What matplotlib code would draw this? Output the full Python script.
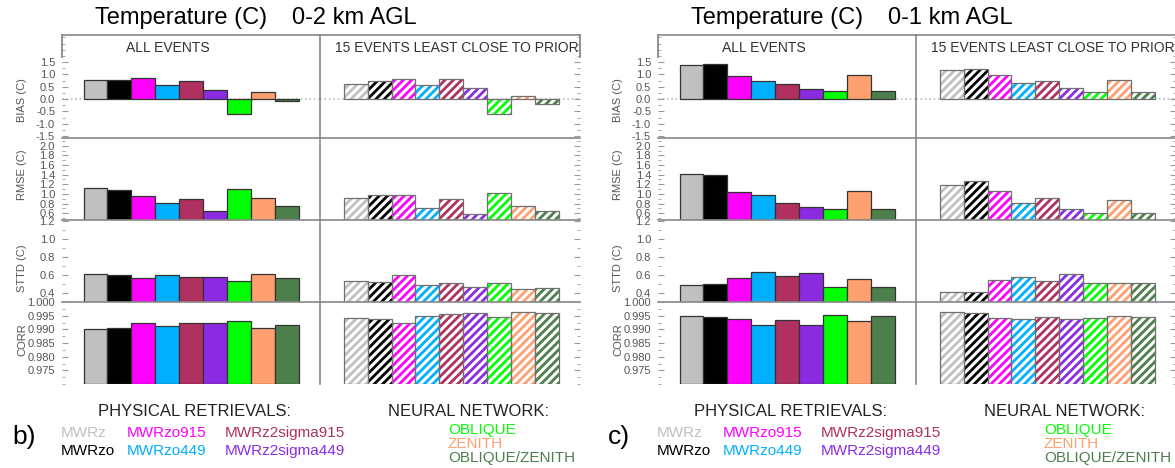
import numpy as np
import matplotlib
matplotlib.use('Agg')
import matplotlib.pyplot as plt
from matplotlib.lines import Line2D
from matplotlib.ticker import FixedLocator, MultipleLocator

plt.rcParams['font.family'] = ['Liberation Sans', 'DejaVu Sans']
plt.rcParams['hatch.linewidth'] = 2.0
plt.rcParams['axes.unicode_minus'] = False

W, H = 1175, 468

names = ['MWRz', 'MWRzo', 'MWRzo915', 'MWRzo449', 'MWRz2sigma915',
         'MWRz2sigma449', 'OBLIQUE', 'ZENITH', 'OBLIQUE/ZENITH']
colors = ['#c0c0c0', '#000000', '#ff00ff', '#00b0ff', '#b03060',
          '#8a2be2', '#00ff00', '#ffa070', '#4d7f4d']

# 0-2 km AGL
bias_02_all = [0.79, 0.76, 0.86, 0.59, 0.74, 0.36, -0.60, 0.30, -0.07]
bias_02_15 = [0.63, 0.72, 0.80, 0.59, 0.80, 0.45, -0.60, 0.12, -0.20]
rmse_02_all = [1.12, 1.08, 0.96, 0.82, 0.90, 0.64, 1.10, 0.92, 0.76]
rmse_02_15 = [0.92, 0.98, 0.98, 0.70, 0.90, 0.58, 1.02, 0.74, 0.64]
sttd_02_all = [0.61, 0.60, 0.57, 0.60, 0.58, 0.58, 0.53, 0.61, 0.57]
sttd_02_15 = [0.53, 0.52, 0.60, 0.49, 0.51, 0.47, 0.51, 0.44, 0.46]
corr_02_all = [0.9900, 0.9904, 0.9924, 0.9912, 0.9922, 0.9922, 0.9930, 0.9906, 0.9916]
corr_02_15 = [0.9940, 0.9937, 0.9922, 0.9950, 0.9956, 0.9958, 0.9944, 0.9962, 0.9958]

# 0-1 km AGL
bias_01_all = [1.39, 1.41, 0.94, 0.74, 0.60, 0.40, 0.33, 0.96, 0.33]
bias_01_15 = [1.19, 1.23, 0.99, 0.66, 0.72, 0.43, 0.27, 0.79, 0.27]
rmse_01_all = [1.41, 1.40, 1.04, 0.97, 0.81, 0.73, 0.69, 1.07, 0.69]
rmse_01_15 = [1.19, 1.26, 1.07, 0.81, 0.91, 0.68, 0.61, 0.88, 0.61]
sttd_01_all = [0.49, 0.50, 0.57, 0.63, 0.59, 0.62, 0.47, 0.56, 0.47]
sttd_01_15 = [0.41, 0.41, 0.54, 0.58, 0.53, 0.61, 0.51, 0.51, 0.51]
corr_01_all = [0.9950, 0.9944, 0.9937, 0.9916, 0.9934, 0.9916, 0.9953, 0.9932, 0.9950]
corr_01_15 = [0.9965, 0.9961, 0.9943, 0.9938, 0.9946, 0.9937, 0.9943, 0.9950, 0.9944]

row_labels = ['BIAS (C)', 'RMSE (C)', 'STTD (C)', 'CORR']
ylims = [(-1.58, 2.6), (0.46, 2.16), (0.30, 1.21), (0.970, 1.000)]
majors = [np.arange(-1.5, 1.51, 0.5), np.arange(0.6, 2.01, 0.2),
          np.arange(0.4, 1.21, 0.2), np.arange(0.975, 1.0001, 0.005)]
minors = [0.25, 0.1, 0.1, 0.0025]
fmts = ['%.1f', '%.1f', '%.1f', '%.3f']

rows_px = [(35, 138), (138, 220), (220, 302), (302, 384)]
ylab_px = [100, 175, 268, 340]

panels = [
    (0, 'b)', '0-2 km AGL',
     [bias_02_all, rmse_02_all, sttd_02_all, corr_02_all],
     [bias_02_15, rmse_02_15, sttd_02_15, corr_02_15]),
    (596, 'c)', '0-1 km AGL',
     [bias_01_all, rmse_01_all, sttd_01_all, corr_01_all],
     [bias_01_15, rmse_01_15, sttd_01_15, corr_01_15]),
]

fig = plt.figure(figsize=(W / 100, H / 100), dpi=100)


def fx(x):
    return x / W


def fy(y):
    return 1 - y / H


def rect(x0, y0, x1, y1):
    return [fx(x0), fy(y1), fx(x1) - fx(x0), fy(y0) - fy(y1)]


def draw_bars(ax, vals, base, hatched):
    x = np.arange(len(vals))
    h = np.array(vals) - base
    if hatched:
        ax.bar(x, h, 1.0, bottom=base, color='white', edgecolor=colors,
               hatch='////', linewidth=0)
        ax.bar(x, h, 1.0, bottom=base, fill=False, edgecolor='#707070',
               linewidth=0.9)
    else:
        ax.bar(x, h, 1.0, bottom=base, color=colors, edgecolor='#333333',
               linewidth=0.9)


def frame_line(x0, y0, x1, y1, c='#888888', lw=1.3):
    fig.add_artist(Line2D([fx(x0), fx(x1)], [fy(y0), fy(y1)],
                          color=c, lw=lw, transform=fig.transFigure))


for off, tag, layer, all_vals, sub_vals in panels:
    xl, xm, xr = 62 + off, 320 + off, 580 + off

    for r in range(4):
        y0, y1 = rows_px[r]
        for c, (a, b) in enumerate([(xl, xm), (xm, xr)]):
            ax = fig.add_axes(rect(a, y0, b, y1))
            vals = all_vals[r] if c == 0 else sub_vals[r]
            lo, hi = ylims[r]
            base = 0.0 if r == 0 else lo
            draw_bars(ax, vals, base, hatched=(c == 1))
            if r == 0:
                ax.axhline(0, color='#bbbbbb', ls=':', lw=1.2, zorder=0)
            ax.set_ylim(lo, hi)
            ax.set_xlim(-1.4 if c == 0 else -1.5, 9.4)
            ax.set_xticks([])
            ax.yaxis.set_major_locator(FixedLocator(majors[r]))
            ax.yaxis.set_minor_locator(MultipleLocator(minors[r]))
            for s in ax.spines.values():
                s.set_color('#888888')
                s.set_linewidth(1.2)
            ax.spines['top'].set_visible(r == 0)
            ax.spines['right'].set_visible(False)
            ax.spines['bottom'].set_visible(r < 3)
            if c == 0:
                ax.spines['left'].set_visible(False)
                ax.yaxis.set_major_formatter(plt.FormatStrFormatter(fmts[r]))
                ax.tick_params(axis='y', which='both', direction='in',
                               colors='#999999', labelcolor='#555555',
                               labelsize=8, pad=5)
            else:
                ax.yaxis.tick_right()
                ax.tick_params(axis='y', which='both', direction='in',
                               colors='#999999', labelright=False)
            ax.tick_params(axis='y', which='major', length=4)
            ax.tick_params(axis='y', which='minor', length=2)
            ax.patch.set_visible(False)

        fig.text(fx(off + 22), fy(ylab_px[r]), row_labels[r], rotation=90,
                 ha='center', va='center', fontsize=8, color='#555555')

    # short frame sides around the column headers
    frame_line(xl, 35, xl, 57)
    frame_line(xr, 35, xr, 57)

    fig.text(fx(off + 168), fy(48), 'ALL EVENTS', ha='center', va='center',
             fontsize=10, color='#333333')
    fig.text(fx(off + 335), fy(48), '15 EVENTS LEAST CLOSE TO PRIOR',
             ha='left', va='center', fontsize=10, color='#333333')

    fig.text(fx(off + 95), fy(18), 'Temperature (C)', ha='left',
             va='center', fontsize=17)
    fig.text(fx(off + 292), fy(18), layer, ha='left', va='center',
             fontsize=17)

    # legend block
    fig.text(fx(off + 194), fy(411), 'PHYSICAL RETRIEVALS:', ha='center',
             va='center', fontsize=12, color='#222222')
    fig.text(fx(off + 468), fy(411), 'NEURAL NETWORK:', ha='center',
             va='center', fontsize=12, color='#222222')
    fig.text(fx(off + 12), fy(437), tag, ha='left', va='center', fontsize=19)

    phys = [(61, 433, 0), (61, 451, 1), (127, 433, 2), (127, 451, 3),
            (225, 433, 4), (225, 451, 5)]
    for x, y, i in phys:
        fig.text(fx(off + x), fy(y), names[i], ha='left', va='center',
                 fontsize=11, color=colors[i])
    for y, i in [(430, 6), (444, 7), (458, 8)]:
        fig.text(fx(off + 448), fy(y), names[i], ha='left', va='center',
                 fontsize=11, color=colors[i])

fig.savefig('out.png', dpi=100)
